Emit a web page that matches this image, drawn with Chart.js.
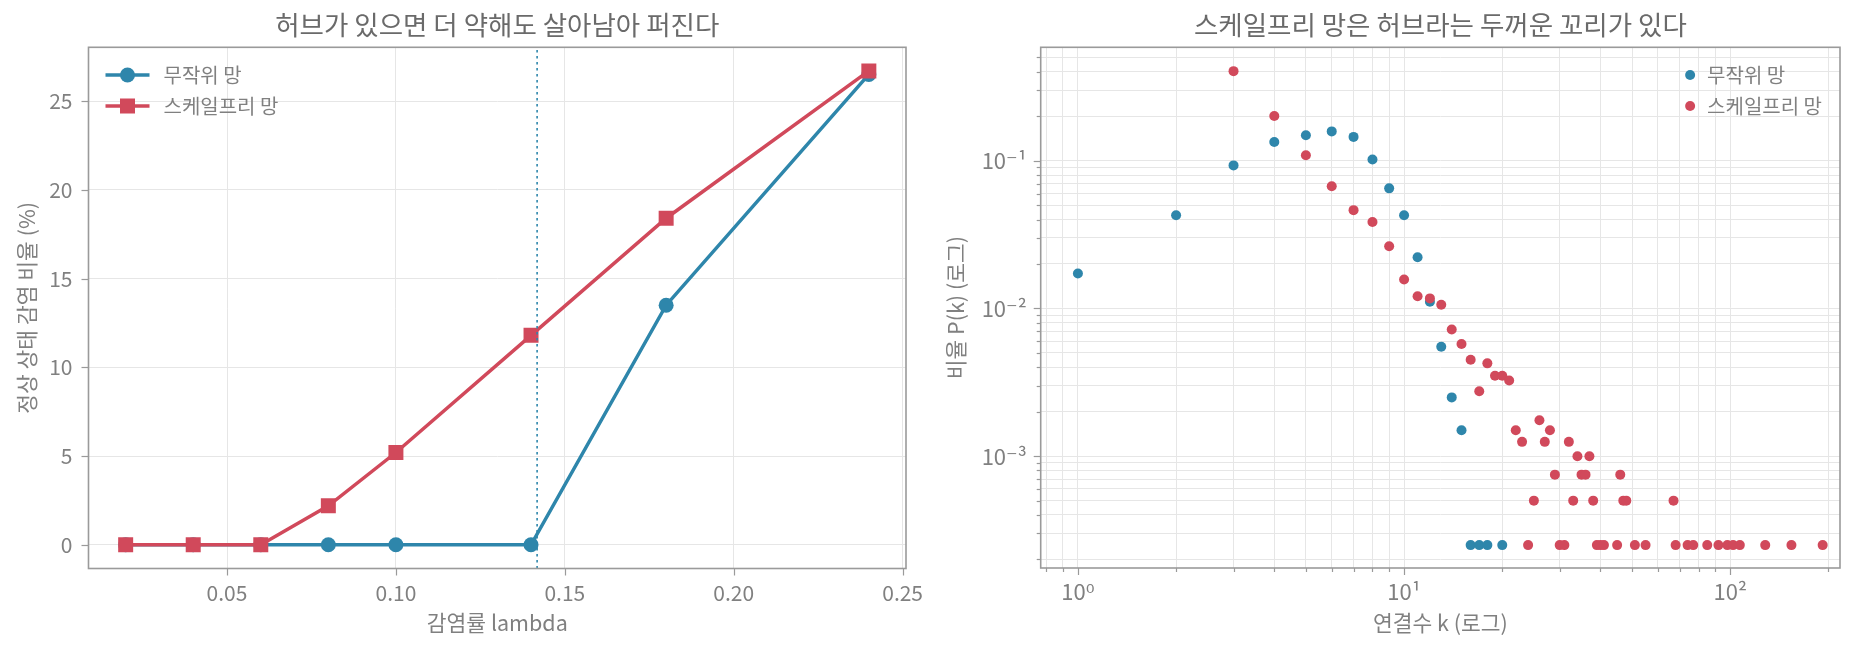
<!DOCTYPE html>
<html><head><meta charset="utf-8">
<script src="https://cdn.jsdelivr.net/npm/chart.js@4.4.1/dist/chart.umd.min.js"></script>
<style>
html,body{margin:0;padding:0;background:#fff;}
#wrap{position:relative;width:1874px;height:658px;overflow:hidden;}
canvas{position:absolute;top:0;}
</style></head><body>
<div id="wrap">
<canvas id="c1" width="937" height="658" style="left:0;width:937px;height:658px"></canvas>
<canvas id="c2" width="937" height="658" style="left:937px;width:937px;height:658px"></canvas>
</div>
<script>
// ---------- data ----------
const seriesNames = ['무작위 망', '스케일프리 망'];
const lambdas = [0.02, 0.04, 0.06, 0.08, 0.10, 0.14, 0.18, 0.24];
const randomInfected = [0, 0, 0, 0, 0, 0, 13.5, 26.5];
const scaleFreeInfected = [0, 0, 0, 2.2, 5.2, 11.8, 18.4, 26.7];
const thresholdLambda = 0.1418;
const leftXTicks = [0.05, 0.10, 0.15, 0.20, 0.25];
const leftYTicks = [0, 5, 10, 15, 20, 25];
const leftXRange = [0.009, 0.251];
const leftYRange = [-1.335, 28.03];

const randomK = [1, 2, 3, 4, 5, 6, 7, 8, 9, 10, 11, 12, 13, 14, 15, 16, 17, 18, 20];
const randomP = [0.01725, 0.0427, 0.093, 0.134, 0.1486, 0.158, 0.145, 0.102, 0.065, 0.0427,
  0.0222, 0.0111, 0.0055, 0.0025, 0.0015, 0.00025, 0.00025, 0.00025, 0.00025];
const scaleFreeK = [3, 4, 5, 6, 7, 8, 9, 10, 11, 12, 13, 14, 15, 16, 17, 18, 19, 20, 21, 22, 23, 24, 25,
  26, 27, 28, 29, 30, 31, 32, 33, 34, 35, 36, 37, 38, 39, 40, 41, 45, 46, 47, 48, 51, 55, 67, 68, 74,
  77, 85, 92, 98, 102, 107, 128, 154, 192];
const scaleFreeP = [0.404, 0.201, 0.109, 0.0671, 0.0463, 0.0385, 0.0264, 0.0157, 0.0121, 0.0117,
  0.0106, 0.0072, 0.00575, 0.0045, 0.00275, 0.00425, 0.0035, 0.0035, 0.00325, 0.0015, 0.00125,
  0.00025, 0.0005, 0.00175, 0.00125, 0.0015, 0.00075, 0.00025, 0.00025, 0.00125, 0.0005, 0.001,
  0.00075, 0.00075, 0.001, 0.0005, 0.00025, 0.00025, 0.00025, 0.00025, 0.00075, 0.0005, 0.0005,
  0.00025, 0.00025, 0.0005, 0.00025, 0.00025, 0.00025, 0.00025, 0.00025, 0.00025, 0.00025, 0.00025,
  0.00025, 0.00025, 0.00025];
const rightXRange = [0.769, 217];
const rightYRange = [0.000175, 0.586];

const titles = ['허브가 있으면 더 약해도 살아남아 퍼진다', '스케일프리 망은 허브라는 두꺼운 꼬리가 있다'];
const xLabels = ['감염률 lambda', '연결수 k (로그)'];
const yLabels = ['정상 상태 감염 비율 (%)', '비율 P(k) (로그)'];

// ---------- style ----------
const BLUE = '#2E86AB', RED = '#D1495B';
const FONT = '"Noto Sans CJK KR", "DejaVu Sans", sans-serif';
const TXT = '#808080', TITLE = '#6a6a6a', GRID = '#e6e6e6', SPINE = '#9a9a9a';
const TICKSIZE = 21, LABELSIZE = 21.5, TITLESIZE = 26.5, LEGENDSIZE = 20;
const W = 937, H = 658;

function sup(n) {
  const m = {'0':'⁰','1':'¹','2':'²','3':'³','4':'⁴','5':'⁵','6':'⁶','7':'⁷','8':'⁸','9':'⁹','-':'⁻'};
  return String(n).split('').map(c => m[c]).join('');
}
function logTicks(min, max) {
  const out = [];
  for (let e = Math.floor(Math.log10(min)); e <= Math.ceil(Math.log10(max)); e++) {
    for (let m = 1; m <= 9; m++) {
      const v = Number((m * Math.pow(10, e)).toPrecision(6));
      if (v >= min && v <= max) out.push({value: v, major: m === 1});
    }
  }
  return out;
}
function logLabel(v) {
  const e = Math.log10(v);
  return Math.abs(e - Math.round(e)) < 1e-9 ? '10' + sup(Math.round(e)) : '';
}

function decorPlugin(cfg) {
  return {
    id: 'decor',
    beforeDraw(chart) {
      const ctx = chart.ctx;
      ctx.save(); ctx.fillStyle = '#fff'; ctx.fillRect(0, 0, chart.width, chart.height); ctx.restore();
    },
    afterDraw(chart) {
      const {ctx, chartArea: a} = chart;
      ctx.save();
      // tick marks
      ctx.strokeStyle = SPINE; ctx.lineWidth = 1.2;
      const xs = chart.scales.x, ys = chart.scales.y;
      xs.ticks.forEach(t => {
        const px = Math.round(xs.getPixelForValue(t.value)) + 0.5;
        const len = t.major === false ? 4 : 7;
        ctx.beginPath(); ctx.moveTo(px, a.bottom); ctx.lineTo(px, a.bottom + len); ctx.stroke();
      });
      ys.ticks.forEach(t => {
        const py = Math.round(ys.getPixelForValue(t.value)) + 0.5;
        const len = t.major === false ? 4 : 7;
        ctx.beginPath(); ctx.moveTo(a.left, py); ctx.lineTo(a.left - len, py); ctx.stroke();
      });
      // spines
      ctx.strokeStyle = SPINE; ctx.lineWidth = 1.6;
      ctx.strokeRect(a.left, a.top, a.right - a.left, a.bottom - a.top);
      // title
      ctx.fillStyle = TITLE; ctx.font = TITLESIZE + 'px ' + FONT;
      ctx.textAlign = 'center'; ctx.textBaseline = 'middle';
      ctx.fillText(cfg.title, (a.left + a.right) / 2, 25);
      // x label
      ctx.fillStyle = TXT; ctx.font = LABELSIZE + 'px ' + FONT;
      ctx.fillText(cfg.xlabel, (a.left + a.right) / 2, 623);
      // y label
      ctx.save();
      ctx.translate(cfg.ylabelX, (a.top + a.bottom) / 2);
      ctx.rotate(-Math.PI / 2);
      ctx.fillText(cfg.ylabel, 0, 0);
      ctx.restore();
      // legend
      ctx.font = LEGENDSIZE + 'px ' + FONT; ctx.textAlign = 'left';
      const rows = [75, 106];
      if (cfg.legend === 'line') {
        const x0 = a.left + 17, x1 = a.left + 61, xt = a.left + 75;
        [[BLUE, 'circle'], [RED, 'rect']].forEach((s, i) => {
          const y = rows[i];
          ctx.strokeStyle = s[0]; ctx.lineWidth = 3.5;
          ctx.beginPath(); ctx.moveTo(x0, y); ctx.lineTo(x1, y); ctx.stroke();
          ctx.fillStyle = s[0];
          const cx = (x0 + x1) / 2;
          if (s[1] === 'circle') { ctx.beginPath(); ctx.arc(cx, y, 7.5, 0, Math.PI * 2); ctx.fill(); }
          else { ctx.fillRect(cx - 7.5, y - 7.5, 15, 15); }
          ctx.fillStyle = TXT; ctx.fillText(seriesNames[i], xt, y);
        });
      } else {
        const wmax = Math.max(...seriesNames.map(s => ctx.measureText(s).width));
        const xt = a.right - 18 - wmax;
        [BLUE, RED].forEach((c, i) => {
          const y = rows[i];
          ctx.fillStyle = c; ctx.beginPath(); ctx.arc(xt - 17, y, 5, 0, Math.PI * 2); ctx.fill();
          ctx.fillStyle = TXT; ctx.fillText(seriesNames[i], xt, y);
        });
      }
      ctx.restore();
    }
  };
}

function fitScale(axis, size) {
  return function (scale) { if (axis === 'x') scale.height = size; else scale.width = size; };
}

// ---------- left chart ----------
const leftArea = {L: 88.5, R: 906, T: 47.3, B: 568.5};
new Chart(document.getElementById('c1'), {
  type: 'line',
  data: {
    datasets: [
      {
        label: 'threshold', data: [{x: thresholdLambda, y: leftYRange[0]}, {x: thresholdLambda, y: leftYRange[1]}],
        borderColor: BLUE, borderWidth: 1.6, borderDash: [2.5, 3.5], pointRadius: 0, order: 0
      },
      {
        label: seriesNames[1], data: lambdas.map((x, i) => ({x, y: scaleFreeInfected[i]})),
        borderColor: RED, backgroundColor: RED, borderWidth: 3.5, pointStyle: 'rect', pointRadius: 10.6,
        pointBorderWidth: 0, pointBackgroundColor: RED, order: 1
      },
      {
        label: seriesNames[0], data: lambdas.map((x, i) => ({x, y: randomInfected[i]})),
        borderColor: BLUE, backgroundColor: BLUE, borderWidth: 3.5, pointStyle: 'circle', pointRadius: 7.5,
        pointBorderWidth: 0, pointBackgroundColor: BLUE, order: 2
      }
    ]
  },
  options: {
    responsive: false, animation: false, devicePixelRatio: 1, events: [],
    layout: {padding: {left: 0, top: leftArea.T, right: W - leftArea.R, bottom: 0}},
    plugins: {legend: {display: false}, title: {display: false}, tooltip: {enabled: false}},
    scales: {
      x: {
        type: 'linear', min: leftXRange[0], max: leftXRange[1],
        afterBuildTicks: s => { s.ticks = leftXTicks.map(v => ({value: v})); },
        afterFit: fitScale('x', H - leftArea.B),
        grid: {color: GRID, lineWidth: 1, drawTicks: false}, border: {display: false},
        ticks: {color: TXT, font: {size: TICKSIZE, family: FONT}, padding: 12, maxRotation: 0, autoSkip: false,
          callback: v => v.toFixed(2)}
      },
      y: {
        type: 'linear', min: leftYRange[0], max: leftYRange[1],
        afterBuildTicks: s => { s.ticks = leftYTicks.map(v => ({value: v})); },
        afterFit: fitScale('y', leftArea.L),
        grid: {color: GRID, lineWidth: 1, drawTicks: false}, border: {display: false},
        ticks: {color: TXT, font: {size: TICKSIZE, family: FONT}, padding: 16, autoSkip: false,
          callback: v => String(v)}
      }
    }
  },
  plugins: [decorPlugin({title: titles[0], xlabel: xLabels[0], ylabel: yLabels[0], ylabelX: 27, legend: 'line'})]
});

// ---------- right chart ----------
const rightArea = {L: 1040.7 - 937, R: 1840 - 937, T: 47.3, B: 568};
new Chart(document.getElementById('c2'), {
  type: 'scatter',
  data: {
    datasets: [
      {
        label: seriesNames[1], data: scaleFreeK.map((k, i) => ({x: k, y: scaleFreeP[i]})),
        backgroundColor: RED, pointRadius: 5, pointBorderWidth: 0, order: 0
      },
      {
        label: seriesNames[0], data: randomK.map((k, i) => ({x: k, y: randomP[i]})),
        backgroundColor: BLUE, pointRadius: 5, pointBorderWidth: 0, order: 1
      }
    ]
  },
  options: {
    responsive: false, animation: false, devicePixelRatio: 1, events: [],
    layout: {padding: {left: 0, top: rightArea.T, right: W - rightArea.R, bottom: 0}},
    plugins: {legend: {display: false}, title: {display: false}, tooltip: {enabled: false}},
    scales: {
      x: {
        type: 'logarithmic', min: rightXRange[0], max: rightXRange[1],
        afterBuildTicks: s => { s.ticks = logTicks(rightXRange[0], rightXRange[1]); },
        afterFit: fitScale('x', H - rightArea.B),
        grid: {color: GRID, lineWidth: 1, drawTicks: false}, border: {display: false},
        ticks: {color: TXT, font: {size: 22, family: FONT}, padding: 10, maxRotation: 0, autoSkip: false,
          callback: logLabel}
      },
      y: {
        type: 'logarithmic', min: rightYRange[0], max: rightYRange[1],
        afterBuildTicks: s => { s.ticks = logTicks(rightYRange[0], rightYRange[1]); },
        afterFit: fitScale('y', rightArea.L),
        grid: {color: GRID, lineWidth: 1, drawTicks: false}, border: {display: false},
        ticks: {color: TXT, font: {size: 22, family: FONT}, padding: 14, autoSkip: false,
          callback: logLabel}
      }
    }
  },
  plugins: [decorPlugin({title: titles[1], xlabel: xLabels[1], ylabel: yLabels[1], ylabelX: 19, legend: 'scatter'})]
});
</script>
</body></html>
